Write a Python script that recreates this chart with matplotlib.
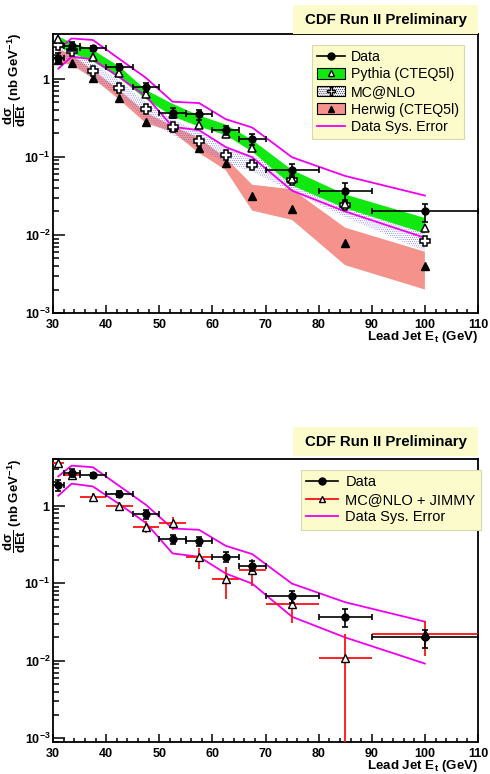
import numpy as np
import matplotlib
matplotlib.use("Agg")
import matplotlib.pyplot as plt
from matplotlib.patches import Patch, Rectangle
from matplotlib.lines import Line2D
from matplotlib.ticker import LogLocator, FuncFormatter, MultipleLocator, NullFormatter

plt.rcParams['font.family'] = ['Liberation Sans', 'DejaVu Sans']
plt.rcParams['mathtext.fontset'] = 'custom'
plt.rcParams['mathtext.rm'] = 'Liberation Sans'
plt.rcParams['mathtext.bf'] = 'Liberation Sans:bold'
plt.rcParams['mathtext.it'] = 'Liberation Sans:italic'
plt.rcParams['hatch.linewidth'] = 0.35

# bins (lead jet Et, GeV)
x = [31, 33.5, 37.5, 42.5, 47.5, 52.5, 57.5, 62.5, 67.5, 75, 85, 100]
xlo = [30, 32, 35, 40, 45, 50, 55, 60, 65, 70, 80, 90]
xhi = [32, 35, 40, 45, 50, 55, 60, 65, 70, 80, 90, 110]

data = [1.85, 2.65, 2.47, 1.43, 0.78, 0.37, 0.35, 0.22, 0.169, 0.068, 0.037, 0.020]
data_err = [0.3, 0.3, 0.2, 0.13, 0.1, 0.05, 0.05, 0.03, 0.025, 0.012, 0.01, 0.0053]

sys_hi = [2.4, 3.3, 3.15, 1.8, 1.03, 0.51, 0.49, 0.305, 0.238, 0.099, 0.057, 0.032]
sys_lo = [1.35, 1.93, 1.78, 1.05, 0.6, 0.243, 0.22, 0.134, 0.099, 0.037, 0.020, 0.0092]

pythia = [3.2, 2.6, 1.9, 1.18, 0.64, 0.36, 0.257, 0.195, 0.129, 0.052, 0.025, 0.0122]
pythia_hi = [3.5, 2.9, 2.35, 1.44, 0.72, 0.48, 0.34, 0.26, 0.165, 0.068, 0.033, 0.0165]
pythia_lo = [2.6, 2.15, 1.67, 1.02, 0.55, 0.33, 0.245, 0.19, 0.117, 0.043, 0.022, 0.0105]

mcnlo = [2.7, 2.3, 1.28, 0.77, 0.41, 0.24, 0.16, 0.105, 0.079, 0.05, 0.0245, 0.0084]
mcnlo_hi = [3.1, 2.7, 1.6, 0.95, 0.5, 0.31, 0.21, 0.13, 0.105, 0.06, 0.03, 0.011]
mcnlo_lo = [2.0, 1.7, 1.0, 0.6, 0.3, 0.19, 0.13, 0.083, 0.065, 0.036, 0.017, 0.0062]

herwig = [1.75, 1.62, 1.04, 0.57, 0.28, 0.24, 0.13, 0.083, 0.032, 0.0217, 0.0078, 0.004]
herwig_hi = [2.4, 2.03, 1.3, 0.72, 0.37, 0.25, 0.175, 0.097, 0.044, 0.0385, 0.0124, 0.0061]
herwig_lo = [1.6, 1.51, 1.02, 0.54, 0.27, 0.21, 0.112, 0.068, 0.0205, 0.0156, 0.0041, 0.002]

jimmy = [3.58, 2.5, 1.3, 1.0, 0.54, 0.6, 0.22, 0.112, 0.148, 0.054, 0.011, 0.022]
jimmy_err = [0.12, 0.25, 0.15, 0.12, 0.09, 0.11, 0.065, 0.05, 0.055, 0.023, 0.01095, 0.0105]

x = np.array(x)
xerr = [x - np.array(xlo), np.array(xhi) - x]

green = '#10e810'
red = '#f5928c'
blue = '#6c6cf0'
magenta = '#f000f0'
yellow = '#fbfbcb'

W, H = 490, 774
fig = plt.figure(figsize=(W / 100, H / 100), dpi=100)
ax1 = fig.add_axes([53 / W, 1 - 313 / H, 425 / W, 279 / H])
ax2 = fig.add_axes([53 / W, 1 - 742 / H, 425 / W, 283 / H])


def fmt(v, pos):
    e = int(round(np.log10(v)))
    if e == 0:
        return r'$\mathbf{1}$'
    return r'$\mathbf{10^{%d}}$' % e


def style(ax, ylim, top_px):
    ax.set_yscale('log')
    ax.set_xlim(30, 110)
    ax.set_ylim(*ylim)
    ax.xaxis.set_major_locator(MultipleLocator(10))
    ax.xaxis.set_minor_locator(MultipleLocator(2))
    ax.yaxis.set_major_locator(LogLocator(base=10))
    ax.yaxis.set_minor_locator(LogLocator(base=10, subs=np.arange(2, 10)))
    ax.yaxis.set_major_formatter(FuncFormatter(fmt))
    ax.yaxis.set_minor_formatter(NullFormatter())
    ax.tick_params(axis='x', which='major', direction='in', length=6, width=1.1,
                   labelsize=9, pad=4)
    ax.tick_params(axis='x', which='minor', direction='in', length=3, width=1.1)
    ax.tick_params(axis='y', which='major', direction='in', length=8.5, width=1.1,
                   labelsize=9, pad=2)
    ax.tick_params(axis='y', which='minor', direction='in', length=4.3, width=1.1)
    for lab in ax.get_xticklabels():
        lab.set_fontweight('bold')
    for sp in ax.spines.values():
        sp.set_linewidth(1.3)
    fig.text(15 / W, 1 - top_px / H, r'$\mathbf{\dfrac{d\sigma}{dEt}\ (nb\ GeV^{-1})}$',
             rotation=90, ha='center', va='top', fontsize=9.5)
    ax.set_xlabel(r'$\mathbf{Lead\ Jet\ E_t\ (GeV)}$', fontsize=9.6, loc='right', labelpad=-1)


# ---- top panel
style(ax1, (1e-3, 3.76), 33)
ax1.fill_between(x, herwig_lo, herwig_hi, facecolor=red, edgecolor='none', lw=0, zorder=1)
ax1.fill_between(x, mcnlo_lo, mcnlo_hi, facecolor='none', edgecolor=blue, hatch='........',
                 lw=0, zorder=2)
ax1.fill_between(x, pythia_lo, pythia_hi, facecolor=green, edgecolor='none', lw=0, zorder=3)
ax1.plot(x, sys_hi, color=magenta, lw=1.3, zorder=4)
ax1.plot(x, sys_lo, color=magenta, lw=1.3, zorder=4)
ax1.plot(x, herwig, ls='none', marker='^', ms=5.5, mfc='black', mec='black', zorder=5)
ax1.plot(x, mcnlo, ls='none', marker='P', ms=6.5, mfc='white', mec='black', mew=1.1, zorder=5)
ax1.plot(x, pythia, ls='none', marker='^', ms=6, mfc='white', mec='black', mew=1.1, zorder=5)
ax1.errorbar(x, data, xerr=xerr, yerr=data_err, fmt='o', color='black', ms=5,
             elinewidth=1.2, capsize=2.5, capthick=1.2, zorder=6)

h_data = Line2D([], [], color='black', marker='o', ms=5, lw=1.2)
h_py = (Patch(facecolor=green, edgecolor='black', lw=0.8),
        Line2D([], [], ls='none', marker='^', ms=5, mfc='white', mec='black'))
h_mc = (Patch(facecolor='#f2f2fa', edgecolor='black', lw=0.8, hatch='........'),
        Line2D([], [], ls='none', marker='P', ms=5.5, mfc='white', mec='black'))
h_hw = (Patch(facecolor=red, edgecolor='black', lw=0.8),
        Line2D([], [], ls='none', marker='^', ms=5, mfc='black', mec='black'))
h_sys = Line2D([], [], color=magenta, lw=1.3)
leg1 = ax1.legend([h_data, h_py, h_mc, h_hw, h_sys],
                  ['Data', 'Pythia (CTEQ5l)', 'MC@NLO', 'Herwig (CTEQ5l)', 'Data Sys. Error'],
                  loc='upper left', bbox_to_anchor=(312 / W, 1 - 45 / H),
                  bbox_transform=fig.transFigure, borderaxespad=0, fontsize=10.2,
                  fancybox=False, framealpha=1, facecolor=yellow, edgecolor='#d8d8b0',
                  handlelength=2.0, handleheight=0.75, labelspacing=0.25,
                  borderpad=0.35, handletextpad=0.4)
leg1.get_frame().set_linewidth(0.8)

# ---- bottom panel
style(ax2, (8.95e-4, 4.02), 459)
ax2.plot(x, sys_hi, color=magenta, lw=1.3, zorder=4)
ax2.plot(x, sys_lo, color=magenta, lw=1.3, zorder=4)
ax2.errorbar(x, jimmy, xerr=xerr, yerr=jimmy_err, fmt='^', color='#ff1010', ms=6,
             mfc='white', mec='black', mew=1.0, elinewidth=1.3, capsize=0, zorder=5)
ax2.errorbar(x, data, xerr=xerr, yerr=data_err, fmt='o', color='black', ms=5,
             elinewidth=1.2, capsize=2.5, capthick=1.2, zorder=6)

h_jm = Line2D([], [], color='#ff1010', lw=1.3, marker='^', ms=5, mfc='white', mec='black')
leg2 = ax2.legend([h_data, h_jm, h_sys], ['Data', 'MC@NLO + JIMMY', 'Data Sys. Error'],
                  loc='upper left', bbox_to_anchor=(301 / W, 1 - 470 / H),
                  bbox_transform=fig.transFigure, borderaxespad=0, fontsize=10.5,
                  fancybox=False, framealpha=1, facecolor=yellow, edgecolor='#d8d8b0',
                  handlelength=2.2, labelspacing=0.25, borderpad=0.35, handletextpad=0.5)
leg2.get_frame().set_linewidth(0.8)

# title boxes
for top in (5, 427):
    fig.patches.append(Rectangle((293 / W, 1 - (top + 29) / H), 185 / W, 29 / H,
                                 transform=fig.transFigure, facecolor=yellow,
                                 edgecolor='none', zorder=5))
    fig.text(385.5 / W, 1 - (top + 15) / H, 'CDF Run II Preliminary', ha='center',
             va='center', fontsize=10.8, fontweight='bold', zorder=6)

fig.savefig('out.png', dpi=100, facecolor='white')
